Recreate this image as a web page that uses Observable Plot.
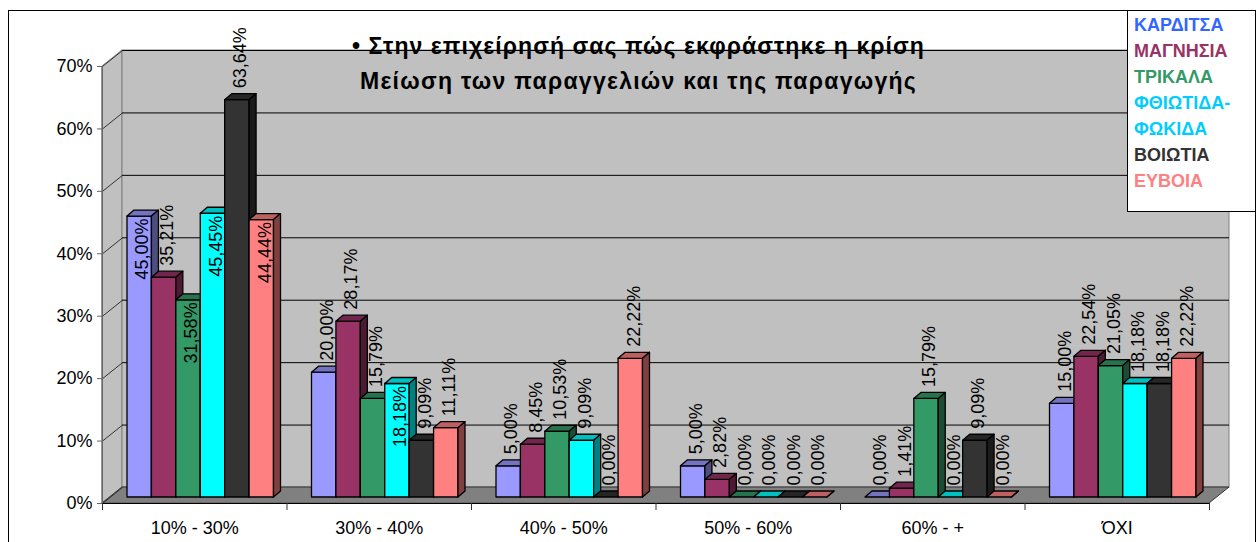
<!DOCTYPE html>
<html>
<head>
<meta charset="utf-8">
<script src="https://cdn.jsdelivr.net/npm/d3@7"></script>
<script src="https://cdn.jsdelivr.net/npm/@observablehq/plot@0.6"></script>
<style>
html, body { margin: 0; padding: 0; background: #fff; overflow: hidden; }
#wrap { position: relative; width: 1258px; height: 542px; overflow: hidden; font-family: "Liberation Sans", Arial, sans-serif; }
#chart { position: absolute; left: 0; top: 0; }
#border { position: absolute; left: 8px; top: 10px; width: 1248px; height: 620px; border: 1.5px solid #000; box-sizing: border-box; pointer-events: none; }
.tline { position: absolute; left: 0; width: 1277px; text-align: center; font-weight: bold; font-size: 23px; height: 30px; line-height: 30px; color: #000; white-space: nowrap; }
.tline span { display: inline-block; }
#legend { position: absolute; left: 1127px; top: 10px; width: 129px; height: 202px; border: 1.5px solid #000; background: #fff; box-sizing: border-box; padding: 1px 0 0 6px; font-weight: bold; font-size: 18px; line-height: 26px; }
</style>
</head>
<body>
<div id="wrap">
  <div id="chart"></div>
  <div class="tline" id="t1" style="top:31px"><span></span></div>
  <div class="tline" id="t2" style="top:66px"><span></span></div>
  <div id="legend"></div>
  <div id="border"></div>
</div>
<script>
// ---------------- data ----------------
const categories = ["10% - 30%", "30% - 40%", "40% - 50%", "50% - 60%", "60% - +", "ΌΧΙ"];
const seriesNames = ["ΚΑΡΔΙΤΣΑ", "ΜΑΓΝΗΣΙΑ", "ΤΡΙΚΑΛΑ", "ΦΘΙΩΤΙΔΑ-ΦΩΚΙΔΑ", "ΒΟΙΩΤΙΑ", "ΕΥΒΟΙΑ"];
const karditsa  = [45.00, 20.00, 5.00, 5.00, 0.00, 15.00];
const magnisia  = [35.21, 28.17, 8.45, 2.82, 1.41, 22.54];
const trikala   = [31.58, 15.79, 10.53, 0.00, 15.79, 21.05];
const fthiotida = [45.45, 18.18, 9.09, 0.00, 0.00, 18.18];
const voiotia   = [63.64, 9.09, 0.00, 0.00, 9.09, 18.18];
const evoia     = [44.44, 11.11, 22.22, 0.00, 0.00, 22.22];
const yTicks = [0, 10, 20, 30, 40, 50, 60, 70];
const barColors = ["#9999FF", "#993366", "#339966", "#00FFFF", "#333333", "#FF8080"];
const legendColors = ["#3366FF", "#993366", "#339966", "#00CCFF", "#333333", "#FF8080"];
const titleLines = ["• Στην επιχείρησή σας πώς εκφράστηκε η κρίση", "Μείωση των παραγγελιών και της παραγωγής"];
// labels drawn inside their bars: [category index, series index]
const insideLabels = [[0, 0], [0, 2], [0, 3], [0, 5], [1, 3]];

// ---------------- layout ----------------
const W = 1258, H = 542, mL = 102, mR = 49, mT = 66, mB = 39;
const nC = categories.length, nS = seriesNames.length;
const yMax = 70;
const kx = (W - mL - mR) / nC;     // px per category unit
const ky = (H - mT - mB) / yMax;   // px per percent
const planeDx = 6, planeDy = -6;   // bar plane offset (px)
const depX = 7, depY = 6;          // bar depth (px)
const wallX = 20, wallY = 16;      // wall depth (px)
const dX = depX / kx, dY = depY / ky, wX = wallX / kx, wY = wallY / ky;
const G = 0.794, bw = G / nS;

const values = [karditsa, magnisia, trikala, fthiotida, voiotia, evoia];
const fmt = v => v.toFixed(2).replace(".", ",") + "%";
const shade = (c, k) => { const r = d3.rgb(c); return d3.rgb(r.r * k, r.g * k, r.b * k).formatHex(); };

const marks = [];
// side wall
marks.push(Plot.areaY([{x: 0, y1: 0, y2: yMax}, {x: wX, y1: wY, y2: yMax + wY}],
  {x: "x", y1: "y1", y2: "y2", fill: "#C0C0C0", stroke: "#808080"}));
// back wall
marks.push(Plot.rect([0], {x1: () => 0, x2: () => nC, y1: () => 0, y2: () => yMax, dx: wallX, dy: -wallY, fill: "#C0C0C0", stroke: "#808080"}));
// floor
marks.push(Plot.areaX([{y: 0, x1: 0, x2: nC}, {y: wY, x1: wX, x2: nC + wX}],
  {y: "y", x1: "x1", x2: "x2", fill: "#808080", stroke: "#333"}));
// back wall gridlines
marks.push(Plot.ruleY(yTicks.slice(1), {x1: () => 0, x2: () => nC, dx: wallX, dy: -wallY, stroke: "#000", strokeWidth: 1}));
// side wall diagonals
marks.push(Plot.link(yTicks, {x1: () => 0, y1: d => d, x2: () => wX, y2: d => d + wY, stroke: "#333", strokeWidth: 1}));
// y axis line and ticks
marks.push(Plot.ruleX([0], {y1: () => 0, y2: () => yMax, stroke: "#666"}));
marks.push(Plot.ruleY(yTicks, {x1: () => 0, x2: () => -5 / kx, stroke: "#666"}));
marks.push(Plot.text(yTicks, {x: () => 0, y: d => d, text: d => d + "%", textAnchor: "end", dx: -10, fontSize: 18, fill: "#000"}));
// x axis line, ticks, labels
marks.push(Plot.ruleY([0], {x1: () => 0, x2: () => nC, stroke: "#000", strokeWidth: 1.2}));
marks.push(Plot.ruleX(d3.range(nC + 1), {y1: () => 0, y2: () => -7 / ky, stroke: "#333"}));
marks.push(Plot.text(categories, {x: (d, i) => i + 0.5, y: () => 0, text: d => d, dy: 25, fontSize: 18, fill: "#000"}));

// bars, series by series (left to right)
for (let s = 0; s < nS; s++) {
  const bars = values[s].map((v, c) => {
    const x0 = c + (1 - G) / 2 + s * bw;
    return {c, v, x0, x1: x0 + bw};
  });
  const tops = bars.flatMap(b => [
    {id: b.c, y: b.v, x1: b.x0, x2: b.x1},
    {id: b.c, y: b.v + dY, x1: b.x0 + dX, x2: b.x1 + dX}
  ]);
  const sides = bars.flatMap(b => [
    {id: b.c, x: b.x1, y1: 0, y2: b.v},
    {id: b.c, x: b.x1 + dX, y1: dY, y2: b.v + dY}
  ]);
  const col = barColors[s];
  const common = {dx: planeDx, dy: planeDy, stroke: "#000", strokeWidth: 1.3, strokeLinejoin: "round"};
  marks.push(Plot.rect(bars, {x1: "x0", x2: "x1", y1: () => 0, y2: "v", fill: col, ...common}));
  marks.push(Plot.areaX(tops, {y: "y", x1: "x1", x2: "x2", z: "id", fill: shade(col, 0.75), ...common}));
  marks.push(Plot.areaY(sides, {x: "x", y1: "y1", y2: "y2", z: "id", fill: shade(col, 0.5), ...common}));
}

// value labels
const isInside = (c, s) => insideLabels.some(([a, b]) => a === c && b === s);
const labels = [];
for (let s = 0; s < nS; s++) values[s].forEach((v, c) => {
  labels.push({c, s, v, x: c + (1 - G) / 2 + s * bw + bw / 2, inside: isInside(c, s), text: fmt(v)});
});
marks.push(Plot.text(labels.filter(d => !d.inside), {x: "x", y: "v", text: "text", rotate: -90, textAnchor: "start", dx: planeDx + 3, dy: planeDy - 12, fontSize: 18, fill: "#000"}));
marks.push(Plot.text(labels.filter(d => d.inside), {x: "x", y: "v", text: "text", rotate: -90, textAnchor: "end", dx: planeDx + 3, dy: planeDy + 2, fontSize: 18, fill: "#000"}));

const chart = Plot.plot({
  width: W, height: H,
  marginLeft: mL, marginRight: mR, marginTop: mT, marginBottom: mB,
  x: {domain: [0, nC], axis: null},
  y: {domain: [0, yMax], axis: null},
  style: {background: "transparent", fontFamily: "'Liberation Sans', Arial, sans-serif", overflow: "visible"},
  marks
});
document.getElementById("chart").appendChild(chart);

// title
const targets = [573, 557];
["t1", "t2"].forEach((id, i) => {
  const span = document.querySelector("#" + id + " span");
  span.textContent = titleLines[i];
  const w = span.getBoundingClientRect().width;
  span.style.letterSpacing = ((targets[i] - w) / titleLines[i].length) + "px";
});

// legend
const legend = document.getElementById("legend");
seriesNames.forEach((n, i) => {
  const d = document.createElement("div");
  d.textContent = n;
  d.style.color = legendColors[i];
  legend.appendChild(d);
});
</script>
</body>
</html>
